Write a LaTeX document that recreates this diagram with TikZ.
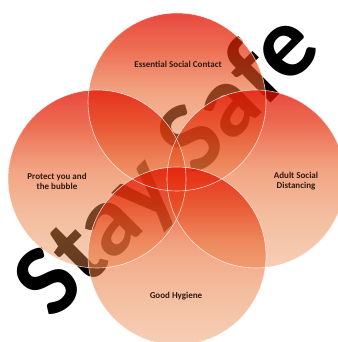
\documentclass[tikz,border=0pt]{standalone}
\usepackage{fontspec}
\setmainfont{Carlito}
\usetikzlibrary{fadings}
\definecolor{vennred}{RGB}{226,14,0}
\definecolor{vennorange}{RGB}{229,44,6}
\definecolor{vennmid}{RGB}{234,106,50}
\definecolor{vennpeach}{RGB}{233,128,70}
\definecolor{vennlight}{RGB}{233,140,80}
\definecolor{venntextcol}{RGB}{48,24,18}
\pgfdeclareverticalshading{vennshade}{100bp}{color(0bp)=(vennlight); color(25bp)=(vennlight);
  color(40bp)=(vennpeach); color(52.5bp)=(vennmid); color(65bp)=(vennorange);
  color(75bp)=(vennred); color(100bp)=(vennred)}
\tikzfading[name=vennfade, top color=transparent!24, bottom color=transparent!58]

\begin{document}
\begin{tikzpicture}[
    x=1pt, y=-1pt,
    bubble/.style={shading=vennshade, path fading=vennfade},
    rim/.style={draw=white, line width=0.6pt, draw opacity=0.75},
    venntext/.style={font=\bfseries\fontsize{9}{10}\selectfont, text=venntextcol, align=center},
    slogan/.style={font=\bfseries\fontsize{102}{102}\selectfont, rotate=45}
]
\useasboundingbox (0,0) rectangle (337,342);

% Slogan behind the circles
\node[slogan] (slogan) at (169,167) {Stay Safe};

% Venn circles
\shade[bubble] (177,102) circle[radius=89];
\shade[bubble] (97,179) circle[radius=89];
\shade[bubble] (256,179) circle[radius=89];
\shade[bubble] (177,256) circle[radius=89];

% White rims
\draw[rim] (177,102) circle[radius=89];
\draw[rim] (97,179) circle[radius=89];
\draw[rim] (256,179) circle[radius=89];
\draw[rim] (177,256) circle[radius=89];

% Labels
\node[venntext] (contact) at (178,64) {Essential Social Contact};
\node[venntext] (protect) at (57,181) {Protect you and\\the bubble};
\node[venntext] (distancing) at (296,181) {Adult Social\\Distancing};
\node[venntext] (hygiene) at (176,296) {Good Hygiene};

\end{tikzpicture}
\end{document}
